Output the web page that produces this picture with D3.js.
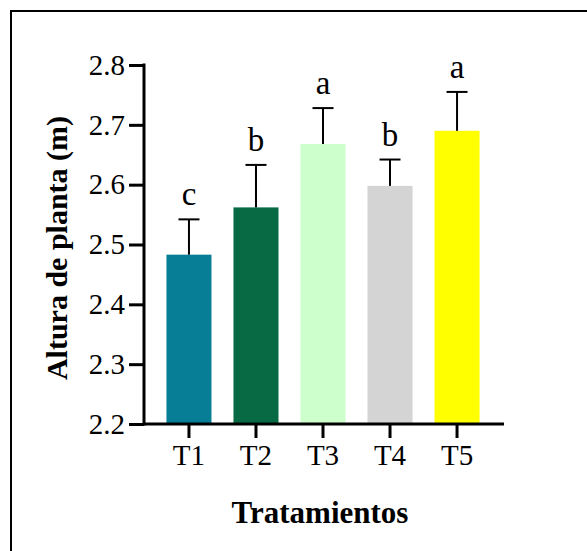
<!DOCTYPE html>
<html>
<head>
<meta charset="utf-8">
<script src="https://cdn.jsdelivr.net/npm/d3@7"></script>
<style>
  body { margin: 0; background: #fff; }
  text { font-family: "Liberation Serif", "Times New Roman", serif; }
</style>
</head>
<body>
<svg id="chart"></svg>
<script>
// treatments and mean plant height (m)
const treatments = ['T1', 'T2', 'T3', 'T4', 'T5'];
const means = [2.483, 2.562, 2.668, 2.598, 2.690];
const errors = [0.059, 0.071, 0.060, 0.044, 0.065];
const letters = ['c', 'b', 'a', 'b', 'a'];
const colors = ['#087e96', '#076a45', '#ccffcc', '#d4d4d4', '#ffff00'];
const yTicks = [2.2, 2.3, 2.4, 2.5, 2.6, 2.7, 2.8];

const W = 587, H = 551;
const svg = d3.select('#chart').attr('width', W).attr('height', H);

// frame (only top/left edges visible in picture)
svg.append('rect')
    .attr('x', 11).attr('y', 11)
    .attr('width', 700).attr('height', 700)
    .attr('fill', 'none').attr('stroke', '#000').attr('stroke-width', 2);

const x = d3.scaleBand().domain(treatments).range([145, 501])
    .paddingInner(0.328).paddingOuter(0.32);
const y = d3.scaleLinear().domain([2.2, 2.8]).range([424, 65]);

const data = treatments.map((t, i) => ({t, m: means[i], e: errors[i], l: letters[i], c: colors[i]}));

// bars
svg.selectAll('.bar').data(data).enter().append('rect')
    .attr('class', 'bar')
    .attr('x', d => x(d.t))
    .attr('y', d => y(d.m))
    .attr('width', x.bandwidth())
    .attr('height', d => y(2.2) - y(d.m))
    .attr('fill', d => d.c);

// error bars (upper only)
const eb = svg.selectAll('.err').data(data).enter().append('g').attr('class', 'err')
    .attr('stroke', '#000').attr('stroke-width', 2);
eb.append('line')
    .attr('x1', d => x(d.t) + x.bandwidth() / 2).attr('x2', d => x(d.t) + x.bandwidth() / 2)
    .attr('y1', d => y(d.m)).attr('y2', d => y(d.m + d.e));
eb.append('line')
    .attr('x1', d => x(d.t) + x.bandwidth() / 2 - 10.5).attr('x2', d => x(d.t) + x.bandwidth() / 2 + 10.5)
    .attr('y1', d => y(d.m + d.e)).attr('y2', d => y(d.m + d.e));

// significance letters
svg.selectAll('.let').data(data).enter().append('text')
    .attr('class', 'let')
    .attr('x', d => x(d.t) + x.bandwidth() / 2)
    .attr('y', d => y(d.m + d.e) - 14)
    .attr('text-anchor', 'middle')
    .attr('font-size', 33)
    .text(d => d.l);

// y axis
const yAxis = svg.append('g').attr('transform', 'translate(144,0)')
    .call(d3.axisLeft(y).tickValues(yTicks).tickFormat(d3.format('.1f')).tickSize(15).tickSizeOuter(0).tickPadding(4));
yAxis.select('.domain').attr('stroke-width', 3).attr('d', `M0,${y(2.8) - 1.5}V${y(2.2) + 1.5}`);
yAxis.selectAll('.tick line').attr('stroke-width', 3);
yAxis.selectAll('.tick text').attr('font-size', 29).attr('fill', '#000')
    .attr('font-family', '"Liberation Serif", serif');

// x axis
const xAxis = svg.append('g').attr('transform', `translate(0,${y(2.2)})`)
    .call(d3.axisBottom(x).tickSize(14).tickSizeOuter(0).tickPadding(6));
xAxis.select('.domain').attr('stroke-width', 3).attr('d', 'M143,0H504');
xAxis.selectAll('.tick line').attr('stroke-width', 3);
xAxis.selectAll('.tick text').attr('font-size', 29).attr('fill', '#000')
    .attr('font-family', '"Liberation Serif", serif');

// axis titles
svg.append('text')
    .attr('transform', 'translate(67,248) rotate(-90)')
    .attr('text-anchor', 'middle')
    .attr('font-size', 30).attr('font-weight', 'bold')
    .text('Altura de planta (m)');

svg.append('text')
    .attr('x', 320).attr('y', 523)
    .attr('text-anchor', 'middle')
    .attr('font-size', 31).attr('font-weight', 'bold')
    .text('Tratamientos');
</script>
</body>
</html>
